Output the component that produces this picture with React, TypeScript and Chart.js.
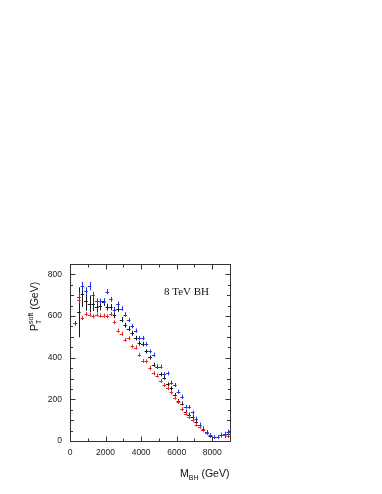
import React, { useEffect, useRef } from "react";
import { Chart, registerables } from "chart.js";

Chart.register(...registerables);

const binCenters = [
  300, 500, 700, 900, 1100, 1300, 1500, 1700, 1900, 2100, 2300, 2500, 2700, 2900,
  3100, 3300, 3500, 3700, 3900, 4100, 4300, 4500, 4700, 4900, 5100, 5300, 5500,
  5700, 5900, 6100, 6300, 6500, 6700, 6900, 7100, 7300, 7500, 7700, 7900, 8100,
  8300, 8500, 8700, 8900,
];
const binHalfWidth = 100;

const blackValues = [
  565, 618, 704, 671, 659, 659, 643, 647, 667, 643, 643, 604, 634, 583,
  556, 539, 517, 494, 469, 465, 430, 401, 366, 357, 320, 304, 272,
  253, 221, 192, 180, 140, 127, 116, 92, 76, 52, 40, 24, 19,
  19, 27, 27, 35,
];
const blackErrors = [
  8, 120, 60, 45, 40, 35, 25, 20, 18, 16, 15, 14, 14, 13,
  12, 12, 12, 11, 11, 11, 10, 10, 10, 10, 10, 9, 9,
  9, 9, 9, 8, 8, 8, 8, 8, 8, 8, 8, 8, 8,
  8, 10, 12, 14,
];

const blueValues = [
  565, 690, 744, 720, 744, 700, 671, 671, 671, 717, 680, 631, 659, 636,
  607, 581, 551, 530, 494, 494, 465, 430, 414, 357, 357, 320, 325,
  280, 269, 237, 213, 164, 164, 137, 108, 79, 60, 43, 27, 19,
  19, 27, 35, 43,
];
const blueErrors = [
  8, 25, 20, 18, 20, 16, 14, 13, 13, 12, 12, 12, 11, 11,
  11, 10, 10, 10, 10, 10, 9, 9, 9, 9, 9, 8, 8,
  8, 8, 8, 8, 8, 8, 8, 8, 8, 8, 8, 8, 8,
  8, 8, 10, 12,
];

const redValues = [
  565, 675, 591, 610, 607, 599, 607, 602, 602, 599, 610, 570, 530, 515,
  486, 494, 454, 449, 414, 385, 382, 349, 325, 314, 288, 269, 253,
  233, 208, 188, 153, 132, 116, 100, 79, 68, 52, 39, 27, 19,
  19, 31, 27, 24,
];
const redErrors = [
  8, 12, 10, 10, 9, 9, 9, 9, 8, 8, 8, 8, 8, 8,
  8, 8, 8, 8, 8, 8, 8, 8, 8, 8, 8, 8, 8,
  8, 8, 8, 8, 8, 8, 8, 8, 8, 8, 8, 8, 8,
  8, 8, 8, 8,
];

const xTickLabels = [0, 2000, 4000, 6000, 8000];
const yTickLabels = [0, 200, 400, 600, 800];
const xMin = 0;
const xMax = 9000;
const yMin = 0;
const yMax = 850;
const annotationText = "8 TeV BH";

const series = [
  { name: "black", values: blackValues, errors: blackErrors, color: "#1a1a1a" },
  { name: "red", values: redValues, errors: redErrors, color: "#e8262a" },
  { name: "blue", values: blueValues, errors: blueErrors, color: "#2233ee" },
];

const SANS = "'Liberation Sans', Arial, Helvetica, sans-serif";
const SERIF = "'Liberation Serif', 'Times New Roman', serif";

const frameAndErrorPlugin = {
  id: "frameAndError",
  afterDatasetsDraw(chart: any) {
    const ctx = chart.ctx as CanvasRenderingContext2D;
    const xs = chart.scales.x;
    const ys = chart.scales.y;
    const area = chart.chartArea;
    ctx.save();
    // error bars
    series.forEach((s) => {
      ctx.strokeStyle = s.color;
      ctx.lineWidth = 1;
      s.values.forEach((v, i) => {
        const c = binCenters[i];
        const px = xs.getPixelForValue(c);
        const py = ys.getPixelForValue(v);
        const x0 = xs.getPixelForValue(c - binHalfWidth);
        const x1 = xs.getPixelForValue(c + binHalfWidth);
        let yTop = ys.getPixelForValue(v + s.errors[i]);
        let yBot = ys.getPixelForValue(Math.max(0, v - s.errors[i]));
        if (py - yTop < 2) yTop = py - 2;
        if (yBot - py < 2) yBot = py + 2;
        ctx.beginPath();
        ctx.moveTo(x0, Math.round(py) + 0.5);
        ctx.lineTo(x1, Math.round(py) + 0.5);
        ctx.moveTo(Math.round(px) + 0.5, yTop);
        ctx.lineTo(Math.round(px) + 0.5, yBot);
        ctx.stroke();
      });
    });
    // frame
    ctx.strokeStyle = "#333";
    ctx.lineWidth = 1;
    const L = Math.round(area.left) + 0.5;
    const R = Math.round(area.right) + 0.5;
    const T = Math.round(area.top) + 0.5;
    const B = Math.round(area.bottom) + 0.5;
    ctx.strokeRect(L, T, R - L, B - T);
    // x ticks (inward, bottom and top)
    ctx.beginPath();
    for (let v = xMin; v <= xMax; v += 1000) {
      const p = Math.round(xs.getPixelForValue(v)) + 0.5;
      const len = v % 2000 === 0 ? 5 : 3;
      ctx.moveTo(p, B);
      ctx.lineTo(p, B - len);
      ctx.moveTo(p, T);
      ctx.lineTo(p, T + len);
    }
    // y ticks (inward, left and right)
    for (let v = yMin; v <= yMax; v += 50) {
      const p = Math.round(ys.getPixelForValue(v)) + 0.5;
      const len = v % 200 === 0 ? 5 : v % 100 === 0 ? 3.5 : 2.5;
      ctx.moveTo(L, p);
      ctx.lineTo(L + len, p);
      ctx.moveTo(R, p);
      ctx.lineTo(R - len, p);
    }
    ctx.stroke();

    // annotation
    ctx.fillStyle = "#111";
    ctx.font = `11px ${SERIF}`;
    ctx.textAlign = "left";
    ctx.textBaseline = "alphabetic";
    ctx.fillText(annotationText, 164, 295);

    // x title: M_BH (GeV)
    ctx.font = `10.5px ${SANS}`;
    let x = 180;
    const by = 477;
    ctx.fillText("M", x, by);
    x += ctx.measureText("M").width;
    ctx.font = `7px ${SANS}`;
    ctx.fillText("BH", x, by + 3);
    x += ctx.measureText("BH").width;
    ctx.font = `10.5px ${SANS}`;
    ctx.fillText(" (GeV)", x, by);

    // y title: P_T^soft (GeV)
    ctx.save();
    ctx.translate(38, 331);
    ctx.rotate(-Math.PI / 2);
    let t = 0;
    ctx.font = `10.5px ${SANS}`;
    ctx.fillText("P", t, 0);
    t += ctx.measureText("P").width;
    ctx.font = `7px ${SANS}`;
    ctx.fillText("T", t, 3);
    ctx.fillText("soft", t, -5);
    t += ctx.measureText("soft").width;
    ctx.font = `10.5px ${SANS}`;
    ctx.fillText(" (GeV)", t, 0);
    ctx.restore();

    ctx.restore();
  },
};

export default function App() {
  const canvasRef = useRef<HTMLCanvasElement | null>(null);

  useEffect(() => {
    if (!canvasRef.current) return;
    const datasets = series.map((s) => ({
      label: s.name,
      data: binCenters.map((c, i) => ({ x: c, y: s.values[i] })),
      pointRadius: 0,
      showLine: false,
      borderColor: s.color,
      backgroundColor: s.color,
    }));
    const chart = new Chart(canvasRef.current, {
      type: "scatter",
      data: { datasets },
      options: {
        responsive: false,
        animation: false,
        events: [],
        layout: { padding: { left: 0, top: 264, right: 152, bottom: 0 } },
        plugins: { legend: { display: false }, tooltip: { enabled: false } },
        scales: {
          x: {
            type: "linear",
            min: xMin,
            max: xMax,
            afterBuildTicks: (scale: any) => {
              scale.ticks = xTickLabels.map((v) => ({ value: v }));
            },
            afterFit: (scale: any) => {
              scale.height = 53;
            },
            grid: { display: false, drawTicks: false },
            border: { display: false },
            ticks: {
              padding: 7,
              color: "#222",
              font: { family: SANS, size: 8.5 },
              maxRotation: 0,
              autoSkip: false,
              callback: (v: any) => String(v),
            },
          },
          y: {
            type: "linear",
            min: yMin,
            max: yMax,
            afterBuildTicks: (scale: any) => {
              scale.ticks = yTickLabels.map((v) => ({ value: v }));
            },
            afterFit: (scale: any) => {
              scale.width = 70;
            },
            grid: { display: false, drawTicks: false },
            border: { display: false },
            ticks: {
              padding: 8,
              color: "#222",
              font: { family: SANS, size: 8.5 },
              autoSkip: false,
              callback: (v: any) => String(v),
            },
          },
        },
      },
      plugins: [frameAndErrorPlugin],
    });
    return () => chart.destroy();
  }, []);

  return (
    <div style={{ position: "absolute", left: 0, top: 0, width: 382, height: 494, background: "#fff" }}>
      <canvas ref={canvasRef} width={382} height={494} style={{ display: "block", width: 382, height: 494 }} />
    </div>
  );
}
